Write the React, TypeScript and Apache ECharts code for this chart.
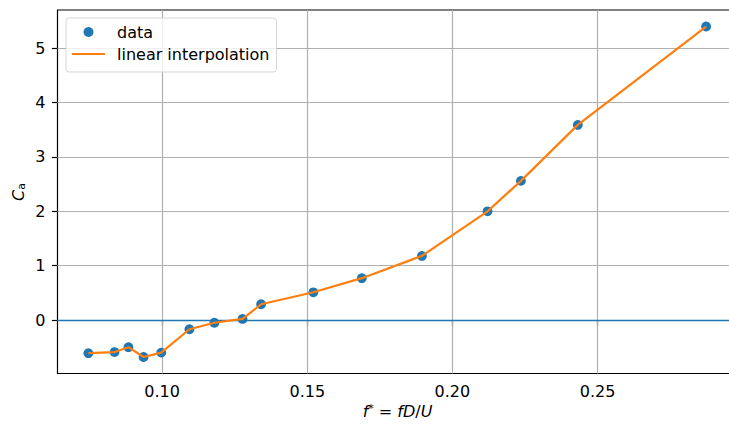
import React, { useEffect, useRef } from "react";
import * as echarts from "echarts";

const fStar = [0.0746, 0.0836, 0.0884, 0.0936, 0.0997, 0.1094, 0.118, 0.1277, 0.1341, 0.1521, 0.1688, 0.1895, 0.2121, 0.2236, 0.2432, 0.2874];
const ca = [-0.61, -0.59, -0.5, -0.68, -0.6, -0.17, -0.05, 0.02, 0.29, 0.51, 0.77, 1.18, 2.0, 2.56, 3.59, 5.4];
const xTicks = [0.1, 0.15, 0.2, 0.25];
const yTicks = [0, 1, 2, 3, 4, 5];
const xTickLabels = ["0.10", "0.15", "0.20", "0.25"];
const yTickLabels = ["0", "1", "2", "3", "4", "5"];
const seriesNames = ["data", "linear interpolation"];

const FONT = "DejaVu Sans";
const FS = 16;

export default function App() {
  const ref = useRef<HTMLDivElement>(null);
  useEffect(() => {
    if (!ref.current) return;
    const chart = echarts.init(ref.current, null, { renderer: "svg" });
    const xmin = Math.min(...fStar), xmax = Math.max(...fStar);
    const ymin = Math.min(...ca), ymax = Math.max(...ca);
    const xm = (xmax - xmin) * 0.05, ym = (ymax - ymin) * 0.05;
    const pts = fStar.map((x, i) => [x, ca[i]]);
    chart.setOption({
      animation: false,
      textStyle: { fontFamily: FONT },
      grid: {
        left: 57.5,
        top: 10,
        right: 8,
        bottom: 54.5,
        show: true,
        borderColor: "#000",
        borderWidth: 1.2,
        backgroundColor: "transparent",
      },
      legend: {
        data: [
          { name: seriesNames[0], icon: "circle" },
          { name: seriesNames[1], icon: "path://M0,0 L33,0 L33,2.2 L0,2.2 Z" },
        ],
        orient: "vertical",
        left: 66,
        top: 18,
        itemWidth: 33,
        itemHeight: 10,
        itemGap: 4,
        padding: [5, 7, 9, 6],
        backgroundColor: "rgba(255,255,255,0.8)",
        borderColor: "rgba(204,204,204,0.8)",
        borderWidth: 1,
        borderRadius: 3,
        textStyle: { fontFamily: FONT, fontSize: FS, color: "#000", lineHeight: 18, padding: [0, 0, 0, 7] },
      },
      xAxis: {
        type: "value",
        min: xmin - xm,
        max: xmax + xm,
        axisLine: { show: false },
        splitLine: { show: false },
        axisTick: { show: true, customValues: xTicks, length: 5.6, lineStyle: { color: "#000", width: 1.2 } },
        axisLabel: {
          customValues: xTicks,
          formatter: (v: number) => xTickLabels[xTicks.findIndex((t) => Math.abs(t - v) < 1e-9)] ?? "",
          color: "#000",
          fontSize: FS,
          fontFamily: FONT,
          margin: 10,
        },
      },
      yAxis: {
        type: "value",
        min: ymin - ym,
        max: ymax + ym,
        axisLine: { show: false },
        splitLine: { show: false },
        axisTick: { show: true, customValues: yTicks, length: 5.6, lineStyle: { color: "#000", width: 1.2 } },
        axisLabel: {
          customValues: yTicks,
          formatter: (v: number) => yTickLabels[yTicks.findIndex((t) => Math.abs(t - v) < 1e-9)] ?? "",
          color: "#000",
          fontSize: FS,
          fontFamily: FONT,
          margin: 12,
        },
      },
      series: [
        {
          name: "grid",
          type: "line",
          data: [],
          silent: true,
          markLine: {
            silent: true,
            symbol: "none",
            z: 1,
            label: { show: false },
            lineStyle: { color: "#b0b0b0", width: 1.2, type: "solid" },
            emphasis: { disabled: true },
            data: [...xTicks.map((v) => ({ xAxis: v })), ...yTicks.map((v) => ({ yAxis: v }))],
          },
        },
        {
          name: "zero",
          type: "line",
          data: [],
          silent: true,
          markLine: {
            silent: true,
            symbol: "none",
            z: 2,
            label: { show: false },
            lineStyle: { color: "#1f77b4", width: 1.4, type: "solid" },
            emphasis: { disabled: true },
            data: [{ yAxis: 0 }],
          },
        },
        {
          name: "data",
          type: "scatter",
          data: pts,
          symbol: "circle",
          symbolSize: 9.8,
          itemStyle: { color: "#1f77b4", opacity: 1 },
          z: 3,
        },
        {
          name: "linear interpolation",
          type: "line",
          data: pts,
          symbol: "none",
          showSymbol: false,
          lineStyle: { color: "#ff7f0e", width: 2.2 },
          itemStyle: { color: "#ff7f0e" },
          z: 4,
        },
      ],
      graphic: [
        {
          type: "text",
          x: 397.5,
          y: 411,
          style: {
            text: "{it|f}{sup|*} = {it|fD}/{it|U}",
            align: "center",
            verticalAlign: "middle",
            fontFamily: FONT,
            fontSize: FS,
            fill: "#000",
            rich: {
              it: { fontStyle: "italic", fontSize: FS, fontFamily: FONT, fill: "#000" },
              sup: { fontSize: 11, fontFamily: FONT, verticalAlign: "top", fill: "#000" },
            },
          },
        },
        {
          type: "text",
          x: 18,
          y: 192,
          rotation: Math.PI / 2,
          style: {
            text: "{it|C}{sub|a}",
            align: "center",
            verticalAlign: "middle",
            fontFamily: FONT,
            fontSize: FS,
            fill: "#000",
            rich: {
              it: { fontStyle: "italic", fontSize: FS, fontFamily: FONT, fill: "#000" },
              sub: { fontSize: 11, fontFamily: FONT, verticalAlign: "bottom", padding: [6, 0, 0, 0], fill: "#000" },
            },
          },
        },
      ],
    });
    return () => chart.dispose();
  }, []);
  return (
    <div style={{ position: "absolute", left: 0, top: 0, width: 729, height: 428, overflow: "hidden", background: "#fff" }}>
      <div ref={ref} style={{ width: 745, height: 428 }} />
    </div>
  );
}
